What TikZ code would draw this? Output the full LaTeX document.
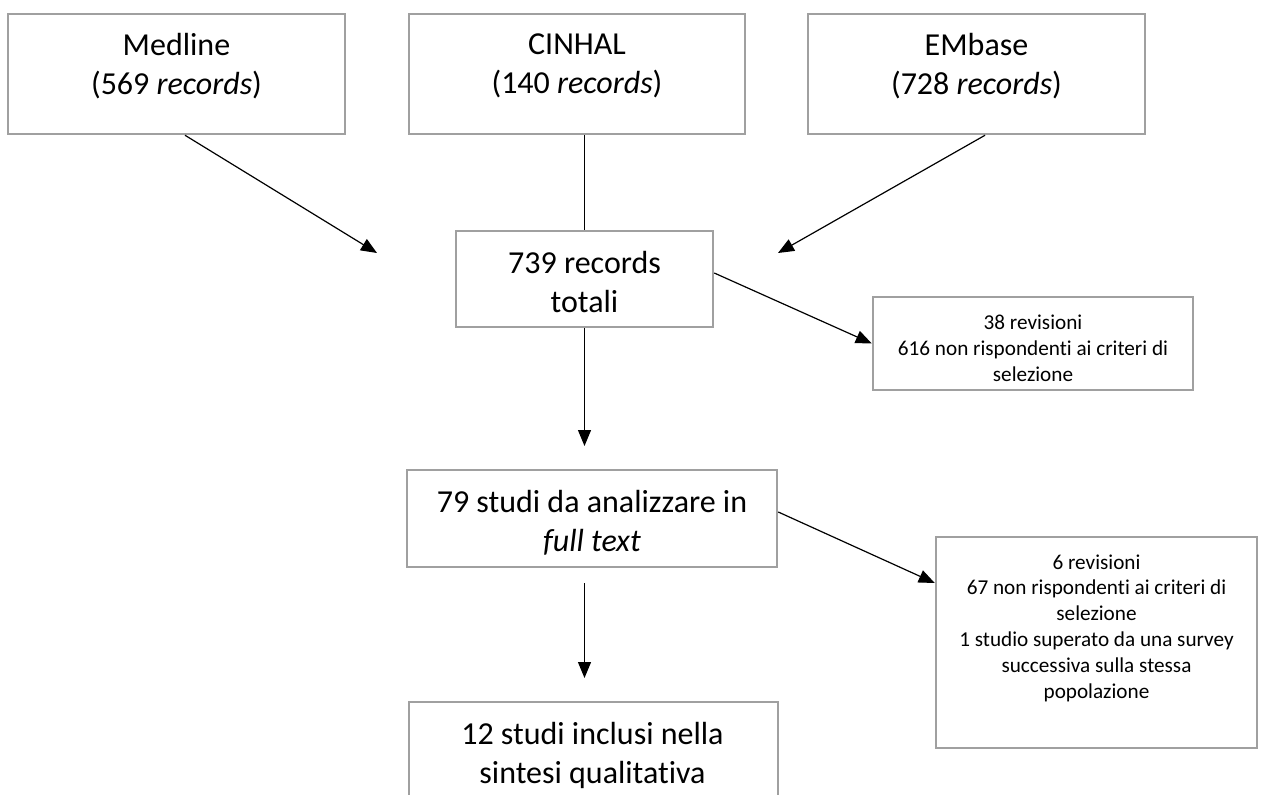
\documentclass[tikz,border=0pt]{standalone}
\usepackage{fontspec}
\setmainfont{Carlito}[Ligatures=NoCommon]
\usetikzlibrary{arrows.meta}
\definecolor{boxgray}{RGB}{160,160,160}
\begin{document}
\begin{tikzpicture}[x=1pt,y=-1pt,
  box/.style={draw=boxgray, line width=2.5pt, rectangle, inner sep=0pt},
  big/.style={font=\fontsize{32}{39}\selectfont, align=center, inner sep=0pt},
  small/.style={font=\fontsize{21.2}{25.8}\selectfont, align=center, inner sep=0pt},
  conn/.style={draw=black, line width=1.2pt},
  arr/.style={conn, -{Triangle[length=16pt,width=13pt]}}]
\clip (0,0) rectangle (1262,795);
\fill[white] (0,0) rectangle (1262,795);
% boxes
\node[box, minimum width=337pt, minimum height=120pt] (medline) at (176.5,74) {};
\node[box, minimum width=336pt, minimum height=120pt] (cinhal) at (577,74) {};
\node[box, minimum width=337pt, minimum height=120pt] (embase) at (976.5,74) {};
\node[box, minimum width=257pt, minimum height=96pt] (tot) at (584.5,279) {};
\node[box, minimum width=320pt, minimum height=93pt] (ex1) at (1033,343.5) {};
\node[box, minimum width=370pt, minimum height=97pt] (ful) at (592,518.5) {};
\node[box, minimum width=321pt, minimum height=211pt] (ex2) at (1096.5,642.5) {};
\node[box, minimum width=369pt, minimum height=110pt] (inc) at (593.5,757) {};
% texts
\node[big] (medlineT) at (176.5,66) {Medline\\(569 \textit{records})};
\node[big] (cinhalT) at (577,66) {CINHAL\\(140 \textit{records})};
\node[big] (embaseT) at (976.5,66) {EMbase\\(728 \textit{records})};
\node[big] (totT) at (584.5,282) {739 records\\totali};
\node[small] (ex1T) at (1033,348) {38 revisioni\\616 non rispondenti ai criteri di\\selezione};
\node[big] (fulT) at (592,523) {79 studi da analizzare in\\\textit{full text}};
\node[small] (ex2T) at (1096.5,628) {6 revisioni\\67 non rispondenti ai criteri di\\selezione\\1 studio superato da una survey\\successiva sulla stessa\\popolazione};
\node[big] (incT) at (592.5,755.5) {12 studi inclusi nella\\sintesi qualitativa};
% free ends
\coordinate (mEnd) at (377,253);
\coordinate (eEnd) at (778,253);
\coordinate (tEnd) at (584.5,446);
\coordinate (fStart) at (584.5,583);
\coordinate (fEnd) at (584.5,678);
% connectors
\draw[arr] ([xshift=8.5pt]medline.south) -- (mEnd);
\draw[conn] (tot.north |- cinhal.south) -- (tot.north);
\draw[arr] ([xshift=8.5pt]embase.south) -- (eEnd);
\draw[arr] ([yshift=6pt]tot.east) -- (ex1.west);
\draw[arr] (tot.south) -- (tEnd);
\draw[arr] ([yshift=6.5pt]ful.east) -- ([yshift=59.5pt]ex2.west);
\draw[arr] (fStart) -- (fEnd);
\end{tikzpicture}
\end{document}
